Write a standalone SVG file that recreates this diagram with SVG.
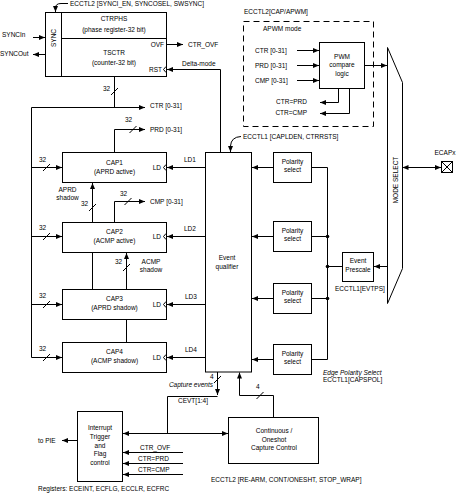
<svg xmlns="http://www.w3.org/2000/svg" width="457" height="499" viewBox="0 0 457 499">
<defs>
<marker id="a" markerWidth="6" markerHeight="6" refX="6" refY="3" orient="auto-start-reverse" markerUnits="userSpaceOnUse"><path d="M0,0.5 L6,3 L0,5.5 z" fill="#000"/></marker>
</defs>
<style>
text{font-family:"Liberation Sans",Arial,sans-serif;font-size:6.5px;fill:#000}
.c{text-anchor:middle}
.e{text-anchor:end}
.i{font-style:italic}
.b{fill:#fff;stroke:#000;stroke-width:1}
.l{fill:none;stroke:#000;stroke-width:1}
.d{fill:none;stroke:#000;stroke-width:1;stroke-dasharray:6,4}
.ar{marker-end:url(#a)}
.ab{marker-start:url(#a);marker-end:url(#a)}
.dot{fill:#000}
</style>
<rect width="457" height="499" fill="#fff"/>

<g id="tsctr">
<rect class="b" x="45.5" y="12.5" width="121" height="64"/>
<path class="l" d="M61.5,12.5V76.5M61.5,38.5H166.5"/>
<text class="c" transform="translate(56,38) rotate(-90)">SYNC</text>
<text class="c" x="114" y="21">CTRPHS</text>
<text class="c" x="114" y="31.5">(phase register-32 bit)</text>
<text class="c" x="114" y="54.5">TSCTR</text>
<text class="c" x="114" y="65">(counter-32 bit)</text>
<text class="e" x="164" y="47">OVF</text>
<text class="e" x="162" y="72">RST</text>
<path class="l" d="M166,66.5L163.5,69.5L166,72.5"/>
</g>

<g id="apwm">
<rect class="d" x="243.5" y="21.5" width="130" height="105"/>
<text x="244" y="14">ECCTL2[CAP/APWM]</text>
<text x="263" y="30.5">APWM mode</text>
<text x="255" y="52.5">CTR [0-31]</text>
<text x="255" y="67.5">PRD [0-31]</text>
<text x="255" y="82.5">CMP [0-31]</text>
<text class="e" x="307" y="104">CTR=PRD</text>
<text class="e" x="307" y="115">CTR=CMP</text>
</g>

<g id="pwm">
<rect class="b" x="319.5" y="42.5" width="45" height="46"/>
<text class="c" x="342" y="59">PWM</text>
<text class="c" x="342" y="67">compare</text>
<text class="c" x="342" y="75.5">logic</text>
</g>

<g id="modeselect">
<polygon class="b" points="387.5,47.5 402.5,82.5 402.5,268.5 387.5,303.5"/>
<text class="c" transform="translate(397.5,180) rotate(-90)">MODE SELECT</text>
</g>

<g id="ecapx">
<rect class="b" x="441.5" y="161.5" width="11" height="11"/>
<path class="l" d="M441.5,161.5L452.5,172.5M452.5,161.5L441.5,172.5"/>
<text class="c" x="445" y="154.5">ECAPx</text>
</g>

<g id="cap1">
<rect class="b" x="62.5" y="152.5" width="104" height="30"/>
<text class="c" x="114.5" y="164.5">CAP1</text>
<text class="c" x="114.5" y="173.5">(APRD active)</text>
<text class="e" x="161" y="169.5">LD</text>
<path class="l" d="M166,164.5L163.5,167.5L166,170.5"/>
</g>
<g id="cap2">
<rect class="b" x="62.5" y="222.5" width="104" height="30"/>
<text class="c" x="114.5" y="233.5">CAP2</text>
<text class="c" x="114.5" y="242.5">(ACMP active)</text>
<text class="e" x="161" y="238.5">LD</text>
<path class="l" d="M166,233.5L163.5,236.5L166,239.5"/>
</g>
<g id="cap3">
<rect class="b" x="62.5" y="289.5" width="104" height="30"/>
<text class="c" x="114.5" y="300.5">CAP3</text>
<text class="c" x="114.5" y="309.5">(APRD shadow)</text>
<text class="e" x="161" y="306.5">LD</text>
<path class="l" d="M166,301.5L163.5,304.5L166,307.5"/>
</g>
<g id="cap4">
<rect class="b" x="62.5" y="342.5" width="104" height="30"/>
<text class="c" x="114.5" y="353.5">CAP4</text>
<text class="c" x="114.5" y="362.5">(ACMP shadow)</text>
<text class="e" x="161" y="359.5">LD</text>
<path class="l" d="M166,354.5L163.5,357.5L166,360.5"/>
</g>

<g id="eventqualifier">
<rect class="b" x="205.5" y="152.5" width="46" height="219.5"/>
<text class="c" x="227" y="259.5">Event</text>
<text class="c" x="227" y="268.5">qualifier</text>
</g>

<g id="polarity1">
<rect class="b" x="273.5" y="152.5" width="38" height="30"/>
<text class="c" x="292.5" y="164">Polarity</text>
<text class="c" x="292.5" y="172">select</text>
</g>
<g id="polarity2">
<rect class="b" x="273.5" y="221.5" width="38" height="30"/>
<text class="c" x="292.5" y="233">Polarity</text>
<text class="c" x="292.5" y="241">select</text>
</g>
<g id="polarity3">
<rect class="b" x="273.5" y="283.5" width="38" height="30"/>
<text class="c" x="292.5" y="295">Polarity</text>
<text class="c" x="292.5" y="303">select</text>
</g>
<g id="polarity4">
<rect class="b" x="273.5" y="344.5" width="38" height="30"/>
<text class="c" x="292.5" y="356">Polarity</text>
<text class="c" x="292.5" y="364">select</text>
</g>

<g id="prescale">
<rect class="b" x="342.5" y="252.5" width="31" height="29"/>
<text class="c" x="358" y="263">Event</text>
<text class="c" x="358" y="272">Prescale</text>
<text x="335" y="291">ECCTL1[EVTPS]</text>
</g>

<g id="interrupt">
<rect class="b" x="77.5" y="411.5" width="45" height="70"/>
<text class="c" x="100" y="430">Interrupt</text>
<text class="c" x="100" y="439">Trigger</text>
<text class="c" x="100" y="447.5">and</text>
<text class="c" x="100" y="456">Flag</text>
<text class="c" x="100" y="464.5">control</text>
</g>

<g id="continuous">
<rect class="b" x="228.5" y="417.5" width="90" height="46"/>
<text class="c" x="274" y="433">Continuous /</text>
<text class="c" x="274" y="441.5">Oneshot</text>
<text class="c" x="274" y="450">Capture Control</text>
</g>

<g id="connectors">
<path class="l ar" d="M33,37.5H45"/>
<path class="l ar" d="M45.5,54.5H33"/>
<path class="l ar" d="M68,3.5H61Q55.5,3.5 55.5,8V12"/>
<path class="l ar" d="M166.5,44.5H183"/>
<path class="l ar" d="M220.5,152.5V69.5H167"/>
<path class="l" d="M114.5,76.5V107.5"/>
<path class="l ar" d="M31.5,357.5V107.5H145"/>
<path class="l ar" d="M31.5,167.5H62"/>
<path class="l ar" d="M31.5,236.5H62"/>
<path class="l ar" d="M31.5,304.5H62"/>
<path class="l ar" d="M31.5,357.5H62"/>
<path class="l ar" d="M114.5,152.5V129.5H145"/>
<path class="l ar" d="M114.5,222.5V201.5H145"/>
<path class="l ar" d="M92.5,222.5V183"/>
<path class="l" d="M92.5,289.5V252.5"/>
<path class="l ar" d="M126.5,289.5V253"/>
<path class="l" d="M126.5,319.5V342.5"/>
<path class="l ar" d="M205.5,167.5H167"/>
<path class="l ar" d="M205.5,236.5H167"/>
<path class="l ar" d="M205.5,304.5H167"/>
<path class="l ar" d="M205.5,357.5H167"/>
<path class="l ar" d="M273.5,167.5H252"/>
<path class="l ar" d="M273.5,236.5H252"/>
<path class="l ar" d="M273.5,298.5H252"/>
<path class="l ar" d="M273.5,359.5H252"/>
<path class="l" d="M311.5,167.5H327.5V359.5H311.5M311.5,236.5H327.5M311.5,298.5H327.5M342.5,266.5H327.5"/>
<circle class="dot" cx="327.5" cy="236.5" r="1.8"/>
<circle class="dot" cx="327.5" cy="266.5" r="1.8"/>
<circle class="dot" cx="327.5" cy="298.5" r="1.8"/>
<path class="l ar" d="M387.5,266.5H374"/>
<path class="l ar" d="M364.5,65.5H387"/>
<path class="l ar" d="M297,50.5H319"/>
<path class="l ar" d="M297,65.5H319"/>
<path class="l ar" d="M297,80.5H319"/>
<path class="l ar" d="M338.5,88.5V102.5H320"/>
<path class="l ar" d="M349.5,88.5V113.5H320"/>
<path class="l ab" d="M402.5,167.5H441"/>
<path class="l ar" d="M241,136.5Q231,137 230.5,146V152"/>
<path class="l ar" d="M217.5,372V395"/>
<path class="l" d="M217.5,396.5H167.5V433.5"/>
<path class="l ab" d="M123,433.5H228"/>
<path class="l ar" d="M273.5,417.5V395.5H239.5V372.5"/>
<path class="l ar" d="M77.5,440.5H62"/>
<path class="l ar" d="M183,452.5H123"/>
<path class="l ar" d="M183,463.5H123"/>
<path class="l ar" d="M183,474.5H123"/>
<path class="l" d="M111,95L118,88M129.5,133L136.5,126M124.5,205L131.5,198M43,171L50,164M43,240L50,233M43,308L50,301M43,361L50,354M89,211L96,204M123,271L130,264M214,383L221,376M256.5,399L263.5,392"/>
</g>

<g id="labels">
<text x="70" y="5.5">ECCTL2 [SYNCI_EN, SYNCOSEL, SWSYNC]</text>
<text x="2" y="37">SYNCIn</text>
<text x="0" y="56">SYNCOut</text>
<text x="188" y="46.5">CTR_OVF</text>
<text x="182" y="65.5">Delta-mode</text>
<text x="103" y="91">32</text>
<text x="150" y="107.5">CTR [0-31]</text>
<text x="125" y="122">32</text>
<text x="150" y="131.5">PRD [0-31]</text>
<text x="243" y="138.5">ECCTL1 [CAPLDEN, CTRRSTS]</text>
<text x="39" y="162">32</text>
<text x="39" y="230">32</text>
<text x="39" y="298">32</text>
<text x="39" y="351">32</text>
<text x="184" y="161.5">LD1</text>
<text x="184" y="230.5">LD2</text>
<text x="185" y="298.5">LD3</text>
<text x="185" y="351.5">LD4</text>
<text class="c" x="67.5" y="192">APRD</text>
<text class="c" x="67.5" y="199.5">shadow</text>
<text x="81" y="205.5">32</text>
<text x="120" y="195.5">32</text>
<text x="150" y="203.5">CMP [0-31]</text>
<text x="115" y="264">32</text>
<text class="c" x="151" y="263.5">ACMP</text>
<text class="c" x="151" y="271.5">shadow</text>
<text class="i" x="323" y="375">Edge Polarity Select</text>
<text x="323" y="382">ECCTL1[CAPSPOL]</text>
<text x="210" y="379">4</text>
<text class="e i" x="213" y="386.5">Capture events</text>
<text x="178" y="403">CEVT[1:4]</text>
<text x="256" y="389">4</text>
<text x="38" y="442.5">to PIE</text>
<text x="140" y="449.5">CTR_OVF</text>
<text x="138" y="461">CTR=PRD</text>
<text x="138" y="472">CTR=CMP</text>
<text x="38" y="490.5">Registers: ECEINT, ECFLG, ECCLR, ECFRC</text>
<text x="211" y="481.5">ECCTL2 [RE-ARM, CONT/ONESHT, STOP_WRAP]</text>
</g>
</svg>
